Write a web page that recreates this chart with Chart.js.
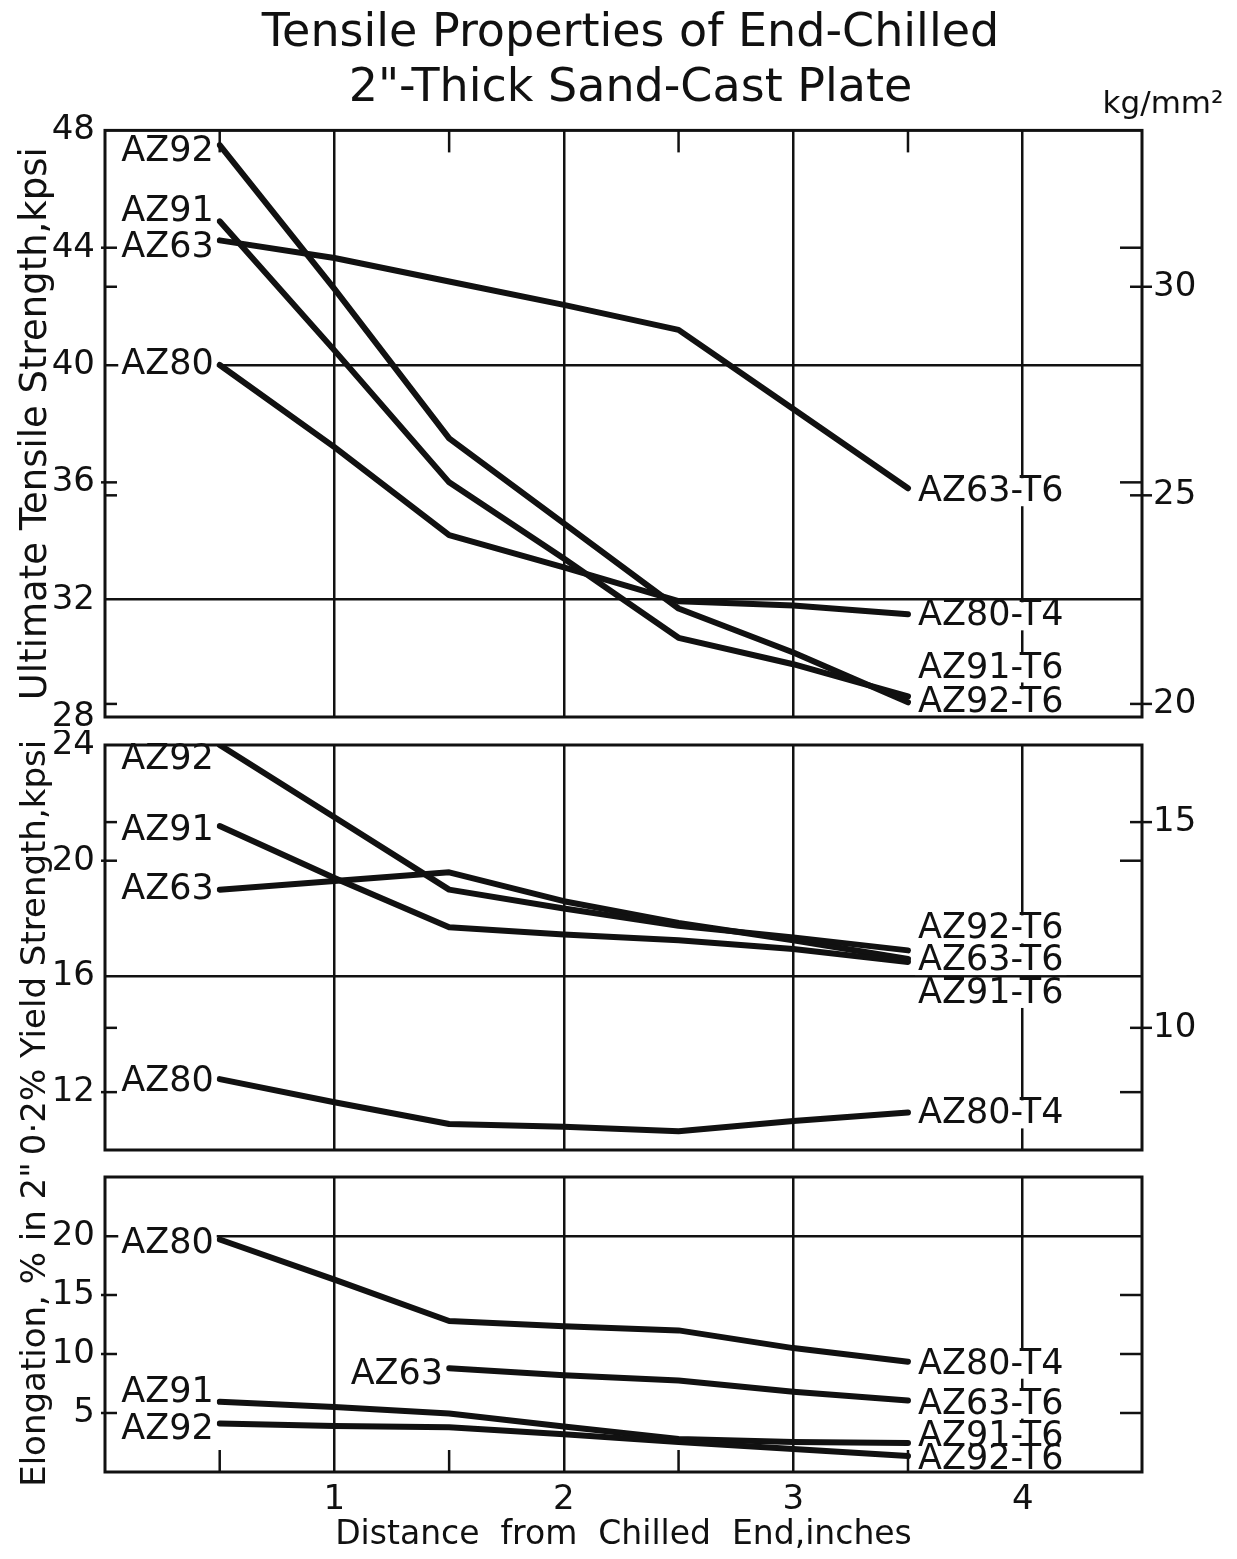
<!DOCTYPE html>
<html><head><meta charset="utf-8">
<script src="https://cdn.jsdelivr.net/npm/chart.js@4.4.1/dist/chart.umd.min.js"></script>
<style>
html,body{margin:0;padding:0;background:#fff;}
#wrap{position:relative;width:1237px;height:1559px;background:#fff;}
canvas{position:absolute;left:0;}
</style></head><body>
<div id="wrap">
<canvas id="c1" width="1237" height="730" style="top:0px"></canvas>
<canvas id="c2" width="1237" height="430" style="top:730px"></canvas>
<canvas id="c3" width="1237" height="399" style="top:1160px"></canvas>
</div>
<script>
// ---------------- data ----------------
const KPSI_PER_KGMM2 = 1.4223;
const distance = [0.5, 1.0, 1.5, 2.0, 2.5, 3.0, 3.5];
const alloyNames = ['AZ92', 'AZ91', 'AZ63', 'AZ80'];
const temperNames = ['AZ92-T6', 'AZ91-T6', 'AZ63-T6', 'AZ80-T4'];

const utsAZ92 = [47.5, 42.6, 37.5, 34.6, 31.7, 30.2, 28.5];
const utsAZ91 = [44.9, 40.5, 36.0, 33.4, 30.7, 29.8, 28.7];
const utsAZ63 = [44.25, 43.65, 42.85, 42.05, 41.2, 38.5, 35.8];
const utsAZ80 = [40.0, 37.2, 34.2, 33.1, 31.95, 31.8, 31.5];

const ysAZ92 = [24.0, 21.5, 19.0, 18.35, 17.75, 17.35, 16.9];
const ysAZ91 = [21.2, 19.4, 17.7, 17.45, 17.25, 16.95, 16.5];
const ysAZ63 = [19.0, 19.3, 19.6, 18.6, 17.85, 17.25, 16.6];
const ysAZ80 = [12.45, 11.65, 10.9, 10.8, 10.65, 11.0, 11.3];

const elAZ92 = [4.1, 3.9, 3.8, 3.2, 2.55, 1.95, 1.35];
const elAZ91 = [5.95, 5.5, 4.95, 3.85, 2.8, 2.55, 2.45];
const elAZ63 = [null, null, 8.8, 8.2, 7.75, 6.8, 6.05];
const elAZ80 = [19.7, 16.3, 12.8, 12.35, 12.0, 10.5, 9.35];

const xTicks = [1, 2, 3, 4];
const xMinorTicks = [0.5, 1.5, 2.5, 3.5];
const utsTicks = [28, 32, 36, 40, 44, 48];
const utsGrid = [32, 40];
const utsKgTicks = [20, 25, 30];
const ysTicks = [12, 16, 20, 24];
const ysGrid = [16];
const ysKgTicks = [10, 15];
const elTicks = [5, 10, 15, 20];
const elGrid = [20];

const titleLines = ['Tensile Properties of End-Chilled', '2"-Thick Sand-Cast Plate'];
const utsTitle = 'Ultimate Tensile Strength,kpsi';
const ysTitle = '0·2% Yield Strength,kpsi';
const elTitle = 'Elongation, % in 2"';
const xTitle = 'Distance  from  Chilled  End,inches';
const kgUnit = 'kg/mm²';

// ---------------- style ----------------
const FONT = "'DejaVu Sans', 'Liberation Sans', sans-serif";
const INK = '#111';
const X_MIN = 0, X_MAX = 4.52;
const labelDy = {
  uts: {start: [7, -9, 8, 0], end: [1, -28, 4, 2]},
  ys:  {start: [15, 5, 0, 3], end: [-21, 32, 2, 2]},
  el:  {start: [6, -9, 7, 4], end: [4, -6, 4, 3]}
};

const panelPlugin = {
  id: 'panelDecor',
  afterDatasetsDraw(chart) {
    const o = chart.options.plugins.panelDecor;
    const ctx = chart.ctx, a = chart.chartArea;
    const xs = chart.scales.x, y = chart.scales.y, yR = chart.scales.yR;
    ctx.save();
    ctx.font = '35px ' + FONT;
    ctx.textBaseline = 'middle';
    const items = [];
    chart.data.datasets.forEach((ds, i) => {
      const pts = chart.getDatasetMeta(i).data.filter(e => !e.skip);
      const first = pts[0], last = pts[pts.length - 1];
      items.push({t: o.startLabels[i], x: first.x - 6, y: first.y + o.dy.start[i], al: 'right'});
      items.push({t: o.endLabels[i], x: last.x + 10, y: last.y + o.dy.end[i], al: 'left'});
    });
    // white backgrounds first, then text
    ctx.fillStyle = '#fff';
    items.forEach(it => {
      const w = ctx.measureText(it.t).width;
      const left = it.al === 'right' ? it.x - w : it.x;
      ctx.fillRect(left - 3, it.y - 14, w + 6, 28);
    });
    ctx.fillStyle = INK;
    items.forEach(it => { ctx.textAlign = it.al; ctx.fillText(it.t, it.x, it.y); });
    // frame and tick marks
    ctx.strokeStyle = INK;
    ctx.lineWidth = 3;
    ctx.strokeRect(a.left, a.top, a.right - a.left, a.bottom - a.top);
    ctx.lineWidth = 2.5;
    const seg = (x1, y1, x2, y2) => { ctx.beginPath(); ctx.moveTo(x1, y1); ctx.lineTo(x2, y2); ctx.stroke(); };
    (o.leftTicks || []).forEach(v => { const p = y.getPixelForValue(v); seg(a.left - 4, p, a.left + 12, p); });
    (o.leftKgTicks || []).forEach(v => { const p = yR.getPixelForValue(v); seg(a.left, p, a.left + 12, p); });
    (o.rightTicks || []).forEach(v => { const p = y.getPixelForValue(v); seg(a.right - 22, p, a.right, p); });
    (o.rightKgTicks || []).forEach(v => { const p = yR.getPixelForValue(v); seg(a.right - 12, p, a.right + 10, p); });
    (o.topTicks || []).forEach(v => { const p = xs.getPixelForValue(v); seg(p, a.top, p, a.top + 22); });
    (o.bottomTicks || []).forEach(v => { const p = xs.getPixelForValue(v); seg(p, a.bottom, p, a.bottom - 22); });
    if (o.unitLabel) {
      ctx.font = '31px ' + FONT;
      ctx.fillStyle = INK;
      ctx.textAlign = 'center';
      ctx.fillText(o.unitLabel, a.right + 21, a.top - 25);
    }
    ctx.restore();
  }
};

function makePanel(id, cfg) {
  const series = cfg.series.map(s => ({
    data: distance.map((d, j) => ({x: d, y: s[j]})),
    xAxisID: 'x', yAxisID: 'y',
    borderColor: INK, borderWidth: 6, pointRadius: 0, tension: 0,
    fill: false, spanGaps: false, borderCapStyle: 'round', borderJoinStyle: 'round'
  }));
  const padLeft = cfg.padLeft || 0;
  return new Chart(document.getElementById(id), {
    type: 'line',
    data: {datasets: series},
    options: {
      responsive: false, animation: false, events: [],
      layout: {padding: {top: cfg.padTop, left: padLeft, right: 0, bottom: 0}},
      plugins: {
        legend: {display: false}, tooltip: {enabled: false},
        title: cfg.title ? {
          display: true, text: cfg.title, color: INK,
          font: {family: FONT, size: 46, weight: 'normal', lineHeight: 1.2},
          padding: {top: 6, bottom: 14}
        } : {display: false},
        panelDecor: cfg.decor
      },
      scales: {
        x: {
          type: 'linear', position: 'bottom', min: X_MIN, max: X_MAX,
          afterBuildTicks: s => { s.ticks = xTicks.map(v => ({value: v})); },
          afterFit: s => { s.height = cfg.xHeight; s.paddingLeft = 0; s.paddingRight = 0; },
          grid: {color: INK, lineWidth: 2.5, drawTicks: false},
          border: {display: false},
          ticks: {display: !!cfg.xLabels, color: INK, padding: 8, font: {family: FONT, size: 34}},
          title: cfg.xLabels ? {display: true, text: xTitle, color: INK, font: {family: FONT, size: 33}, padding: {top: 0, bottom: 4}} : {display: false}
        },
        y: {
          type: 'linear', position: 'left', min: cfg.yMin, max: cfg.yMax,
          afterBuildTicks: s => { s.ticks = cfg.yTicks.map(v => ({value: v})); },
          afterFit: s => { s.width = 105 - padLeft; s.paddingTop = 0; s.paddingBottom = 0; },
          grid: {
            color: c => (c.tick && cfg.yGrid.includes(c.tick.value)) ? INK : 'rgba(0,0,0,0)',
            lineWidth: 2.5, drawTicks: false
          },
          border: {display: false},
          ticks: {color: INK, padding: 10, font: {family: FONT, size: 34}},
          title: {display: true, text: cfg.yTitle, color: INK, font: {family: FONT, size: cfg.yTitleSize}, padding: {top: cfg.yTitlePad, bottom: 0}}
        },
        yR: {
          type: 'linear', position: 'right',
          min: cfg.yMin / KPSI_PER_KGMM2, max: cfg.yMax / KPSI_PER_KGMM2,
          afterBuildTicks: s => { s.ticks = cfg.kgTicks.map(v => ({value: v})); },
          afterFit: s => { s.width = 95; s.paddingTop = 0; s.paddingBottom = 0; },
          grid: {display: false, drawTicks: false},
          border: {display: false},
          ticks: {display: cfg.kgTicks.length > 0, color: INK, padding: 11, font: {family: FONT, size: 34}}
        }
      }
    },
    plugins: [panelPlugin]
  });
}

makePanel('c1', {
  title: titleLines, padTop: 0, padLeft: 24, xHeight: 13, xLabels: false,
  series: [utsAZ92, utsAZ91, utsAZ63, utsAZ80],
  yMin: 28, yMax: 48, yTicks: utsTicks, yGrid: utsGrid, yTitle: utsTitle, yTitleSize: 37, yTitlePad: -10,
  kgTicks: utsKgTicks,
  decor: {
    startLabels: alloyNames, endLabels: temperNames, dy: labelDy.uts,
    leftTicks: [36, 44], leftKgTicks: utsKgTicks, rightTicks: [36, 44], rightKgTicks: utsKgTicks,
    topTicks: xMinorTicks, unitLabel: kgUnit
  }
});

makePanel('c2', {
  title: null, padTop: 15, xHeight: 10, xLabels: false,
  series: [ysAZ92, ysAZ91, ysAZ63, ysAZ80],
  yMin: 10, yMax: 24, yTicks: ysTicks, yGrid: ysGrid, yTitle: ysTitle, yTitleSize: 34, yTitlePad: 16,
  kgTicks: ysKgTicks,
  decor: {
    startLabels: alloyNames, endLabels: temperNames, dy: labelDy.ys,
    leftTicks: [12, 20], leftKgTicks: ysKgTicks, rightTicks: [12, 20], rightKgTicks: ysKgTicks
  }
});

makePanel('c3', {
  title: null, padTop: 17, xHeight: 87, xLabels: true,
  series: [elAZ92, elAZ91, elAZ63, elAZ80],
  yMin: 0, yMax: 25, yTicks: elTicks, yGrid: elGrid, yTitle: elTitle, yTitleSize: 34, yTitlePad: 16,
  kgTicks: [],
  decor: {
    startLabels: alloyNames, endLabels: temperNames, dy: labelDy.el,
    leftTicks: [5, 10, 15], rightTicks: [5, 10, 15], bottomTicks: xMinorTicks
  }
});
</script>
</body></html>
